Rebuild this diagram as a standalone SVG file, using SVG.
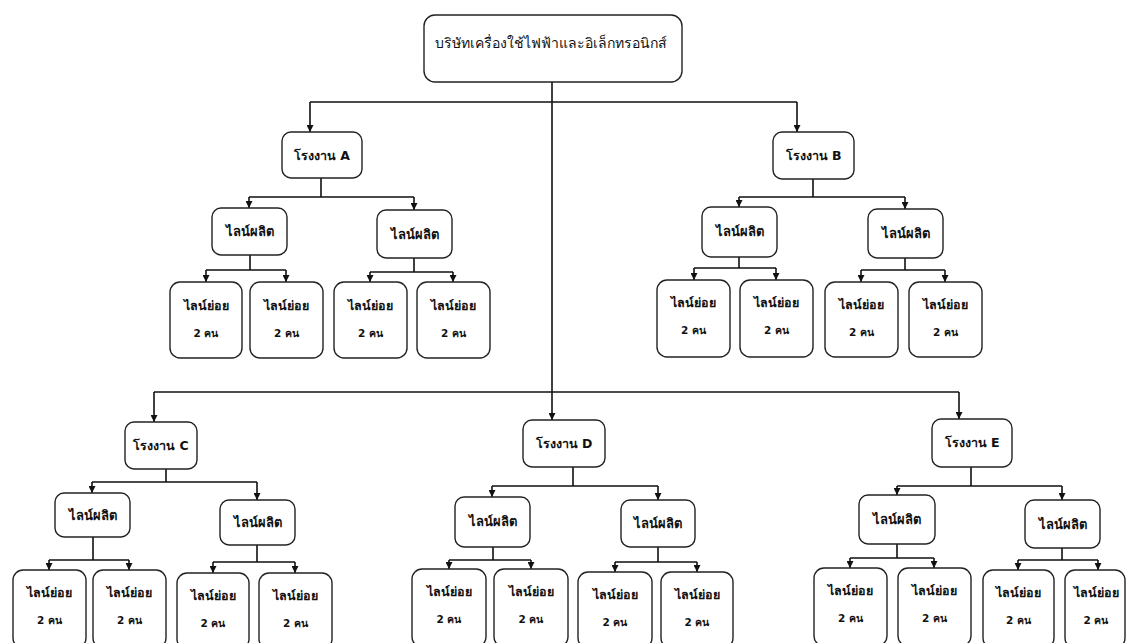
<svg xmlns="http://www.w3.org/2000/svg" width="1127" height="643" viewBox="0 0 1127 643">
  <defs>
    <marker id="arrow" markerUnits="userSpaceOnUse" markerWidth="7" markerHeight="7" refX="7" refY="3.5" orient="auto">
      <path d="M0,0 L7,3.5 L0,7 z" fill="#111"/>
    </marker>
  </defs>
  <style>
    .box { fill: #fff; stroke: #222; stroke-width: 1.4; }
    .t { font-family: "DejaVu Sans", "Noto Sans", sans-serif; fill: #111; text-anchor: middle; }
    .top { font-size: 14px; }
    .fac { font-size: 12.5px; font-weight: bold; }
    .pl { font-size: 13px; font-weight: bold; }
    .leaf { font-size: 12.5px; font-weight: bold; }
    .num { font-size: 10.5px; font-weight: bold; }
    .con path { fill: none; stroke: #111; stroke-width: 1.6; }
    .con path.a { marker-end: url(#arrow); }
  </style>
  <rect width="1127" height="643" fill="#fff"/>

  <!-- connectors -->
  <g id="connectors" class="con">
    <!-- trunk and company-level bars -->
    <path class="a" d="M552,82 V420"/>
    <path d="M310,102 H797"/>
    <path class="a" d="M310,102 V132"/>
    <path class="a" d="M797,102 V132"/>
    <path d="M154,392 H959"/>
    <path class="a" d="M154,392 V422"/>
    <path class="a" d="M959,392 V419"/>

    <!-- factory A -->
    <path d="M321,178 V197 M249,197 H414"/>
    <path class="a" d="M249,197 V208"/>
    <path class="a" d="M414,197 V210"/>
    <path d="M250,255 V270 M206,270 H286"/>
    <path class="a" d="M206,270 V282"/>
    <path class="a" d="M286,270 V282"/>
    <path d="M414,258 V272 M370,272 H453"/>
    <path class="a" d="M370,272 V282"/>
    <path class="a" d="M453,272 V282"/>

    <!-- factory B -->
    <path d="M813,179 V197 M739,197 H905"/>
    <path class="a" d="M739,197 V207"/>
    <path class="a" d="M905,197 V209"/>
    <path d="M739,257 V268 M694,268 H776"/>
    <path class="a" d="M694,268 V280"/>
    <path class="a" d="M776,268 V280"/>
    <path d="M905,258 V270 M861,270 H945"/>
    <path class="a" d="M861,270 V282"/>
    <path class="a" d="M945,270 V282"/>

    <!-- factory C -->
    <path d="M166,469 V482 M92,482 H257"/>
    <path class="a" d="M92,482 V493"/>
    <path class="a" d="M257,482 V500"/>
    <path d="M93,537 V560 M49,560 H129"/>
    <path class="a" d="M49,560 V570"/>
    <path class="a" d="M129,560 V570"/>
    <path d="M257,545 V562 M213,562 H295"/>
    <path class="a" d="M213,562 V573"/>
    <path class="a" d="M295,562 V573"/>

    <!-- factory D -->
    <path d="M573,467 V486 M492,486 H658"/>
    <path class="a" d="M492,486 V497"/>
    <path class="a" d="M658,486 V500"/>
    <path d="M493,547 V560 M449,560 H531"/>
    <path class="a" d="M449,560 V569"/>
    <path class="a" d="M531,560 V569"/>
    <path d="M658,547 V562 M615,562 H697"/>
    <path class="a" d="M615,562 V572"/>
    <path class="a" d="M697,562 V572"/>

    <!-- factory E -->
    <path d="M971,467 V486 M897,486 H1062"/>
    <path class="a" d="M897,486 V495"/>
    <path class="a" d="M1062,486 V500"/>
    <path d="M897,544 V558 M850,558 H934"/>
    <path class="a" d="M850,558 V568"/>
    <path class="a" d="M934,558 V568"/>
    <path d="M1062,548 V560 M1018,560 H1098"/>
    <path class="a" d="M1018,560 V570"/>
    <path class="a" d="M1098,560 V570"/>
  </g>

  <!-- company -->
  <g id="company">
    <rect class="box" x="424" y="15" width="258" height="67" rx="11"/>
    <text class="t top" x="551" y="48">บริษัทเครื่องใช้ไฟฟ้าและอิเล็กทรอนิกส์</text>
  </g>

  <!-- factory A -->
  <g id="factory-a">
    <rect class="box" x="282" y="132" width="80" height="46" rx="9"/>
    <text class="t fac" x="322" y="160">โรงงาน A</text>
  </g>
  <g id="line-a1">
    <rect class="box" x="212" y="208" width="75" height="47" rx="9"/>
    <text class="t pl" x="249.5" y="236">ไลน์ผลิต</text>
  </g>
  <g id="line-a2">
    <rect class="box" x="377" y="210" width="75" height="48" rx="9"/>
    <text class="t pl" x="414.5" y="239">ไลน์ผลิต</text>
  </g>
  <g id="sub-a1"><rect class="box" x="170" y="282" width="72" height="76" rx="10"/><text class="t leaf" x="206" y="310">ไลน์ย่อย</text><text class="t num" x="206" y="337">2 คน</text></g>
  <g id="sub-a2"><rect class="box" x="250" y="282" width="73" height="76" rx="10"/><text class="t leaf" x="286.5" y="310">ไลน์ย่อย</text><text class="t num" x="286.5" y="337">2 คน</text></g>
  <g id="sub-a3"><rect class="box" x="334" y="282" width="73" height="76" rx="10"/><text class="t leaf" x="370.5" y="310">ไลน์ย่อย</text><text class="t num" x="370.5" y="337">2 คน</text></g>
  <g id="sub-a4"><rect class="box" x="417" y="282" width="73" height="76" rx="10"/><text class="t leaf" x="453.5" y="310">ไลน์ย่อย</text><text class="t num" x="453.5" y="337">2 คน</text></g>

  <!-- factory B -->
  <g id="factory-b">
    <rect class="box" x="773" y="132" width="81" height="47" rx="9"/>
    <text class="t fac" x="813.5" y="160">โรงงาน B</text>
  </g>
  <g id="line-b1">
    <rect class="box" x="702" y="207" width="75" height="50" rx="9"/>
    <text class="t pl" x="739.5" y="236">ไลน์ผลิต</text>
  </g>
  <g id="line-b2">
    <rect class="box" x="868" y="209" width="75" height="49" rx="9"/>
    <text class="t pl" x="905.5" y="238">ไลน์ผลิต</text>
  </g>
  <g id="sub-b1"><rect class="box" x="657" y="280" width="73" height="77" rx="10"/><text class="t leaf" x="693.5" y="307">ไลน์ย่อย</text><text class="t num" x="693.5" y="334">2 คน</text></g>
  <g id="sub-b2"><rect class="box" x="740" y="280" width="73" height="77" rx="10"/><text class="t leaf" x="776.5" y="307">ไลน์ย่อย</text><text class="t num" x="776.5" y="334">2 คน</text></g>
  <g id="sub-b3"><rect class="box" x="825" y="282" width="73" height="75" rx="10"/><text class="t leaf" x="861.5" y="309">ไลน์ย่อย</text><text class="t num" x="861.5" y="336">2 คน</text></g>
  <g id="sub-b4"><rect class="box" x="909" y="282" width="73" height="75" rx="10"/><text class="t leaf" x="945.5" y="309">ไลน์ย่อย</text><text class="t num" x="945.5" y="336">2 คน</text></g>

  <!-- factory C -->
  <g id="factory-c">
    <rect class="box" x="125" y="422" width="72" height="47" rx="9"/>
    <text class="t fac" x="161" y="450">โรงงาน C</text>
  </g>
  <g id="line-c1">
    <rect class="box" x="55" y="493" width="75" height="44" rx="9"/>
    <text class="t pl" x="92.5" y="520">ไลน์ผลิต</text>
  </g>
  <g id="line-c2">
    <rect class="box" x="220" y="500" width="75" height="45" rx="9"/>
    <text class="t pl" x="257.5" y="527">ไลน์ผลิต</text>
  </g>
  <g id="sub-c1"><rect class="box" x="13" y="570" width="73" height="78" rx="10"/><text class="t leaf" x="49.5" y="597">ไลน์ย่อย</text><text class="t num" x="49.5" y="624">2 คน</text></g>
  <g id="sub-c2"><rect class="box" x="93" y="570" width="73" height="78" rx="10"/><text class="t leaf" x="129.5" y="597">ไลน์ย่อย</text><text class="t num" x="129.5" y="624">2 คน</text></g>
  <g id="sub-c3"><rect class="box" x="177" y="573" width="72" height="76" rx="10"/><text class="t leaf" x="213" y="600">ไลน์ย่อย</text><text class="t num" x="213" y="627">2 คน</text></g>
  <g id="sub-c4"><rect class="box" x="259" y="573" width="73" height="76" rx="10"/><text class="t leaf" x="295.5" y="600">ไลน์ย่อย</text><text class="t num" x="295.5" y="627">2 คน</text></g>

  <!-- factory D -->
  <g id="factory-d">
    <rect class="box" x="523" y="420" width="82" height="47" rx="9"/>
    <text class="t fac" x="564" y="448">โรงงาน D</text>
  </g>
  <g id="line-d1">
    <rect class="box" x="455" y="497" width="75" height="50" rx="9"/>
    <text class="t pl" x="492.5" y="526">ไลน์ผลิต</text>
  </g>
  <g id="line-d2">
    <rect class="box" x="621" y="500" width="74" height="47" rx="9"/>
    <text class="t pl" x="658" y="528">ไลน์ผลิต</text>
  </g>
  <g id="sub-d1"><rect class="box" x="412" y="569" width="74" height="78" rx="10"/><text class="t leaf" x="449" y="596">ไลน์ย่อย</text><text class="t num" x="449" y="623">2 คน</text></g>
  <g id="sub-d2"><rect class="box" x="494" y="569" width="74" height="78" rx="10"/><text class="t leaf" x="531" y="596">ไลน์ย่อย</text><text class="t num" x="531" y="623">2 คน</text></g>
  <g id="sub-d3"><rect class="box" x="578" y="572" width="74" height="76" rx="10"/><text class="t leaf" x="615" y="599">ไลน์ย่อย</text><text class="t num" x="615" y="626">2 คน</text></g>
  <g id="sub-d4"><rect class="box" x="661" y="572" width="72" height="76" rx="10"/><text class="t leaf" x="697" y="599">ไลน์ย่อย</text><text class="t num" x="697" y="626">2 คน</text></g>

  <!-- factory E -->
  <g id="factory-e">
    <rect class="box" x="932" y="419" width="80" height="48" rx="9"/>
    <text class="t fac" x="972" y="447">โรงงาน E</text>
  </g>
  <g id="line-e1">
    <rect class="box" x="859" y="495" width="76" height="49" rx="9"/>
    <text class="t pl" x="897" y="524">ไลน์ผลิต</text>
  </g>
  <g id="line-e2">
    <rect class="box" x="1025" y="500" width="75" height="48" rx="9"/>
    <text class="t pl" x="1062.5" y="529">ไลน์ผลิต</text>
  </g>
  <g id="sub-e1"><rect class="box" x="814" y="568" width="73" height="78" rx="10"/><text class="t leaf" x="850.5" y="595">ไลน์ย่อย</text><text class="t num" x="850.5" y="622">2 คน</text></g>
  <g id="sub-e2"><rect class="box" x="898" y="568" width="73" height="78" rx="10"/><text class="t leaf" x="934.5" y="595">ไลน์ย่อย</text><text class="t num" x="934.5" y="622">2 คน</text></g>
  <g id="sub-e3"><rect class="box" x="983" y="570" width="71" height="78" rx="10"/><text class="t leaf" x="1018.5" y="597">ไลน์ย่อย</text><text class="t num" x="1018.5" y="624">2 คน</text></g>
  <g id="sub-e4"><rect class="box" x="1065" y="570" width="60" height="78" rx="10"/><text class="t leaf" x="1096" y="597">ไลน์ย่อย</text><text class="t num" x="1096" y="624">2 คน</text></g>
</svg>
